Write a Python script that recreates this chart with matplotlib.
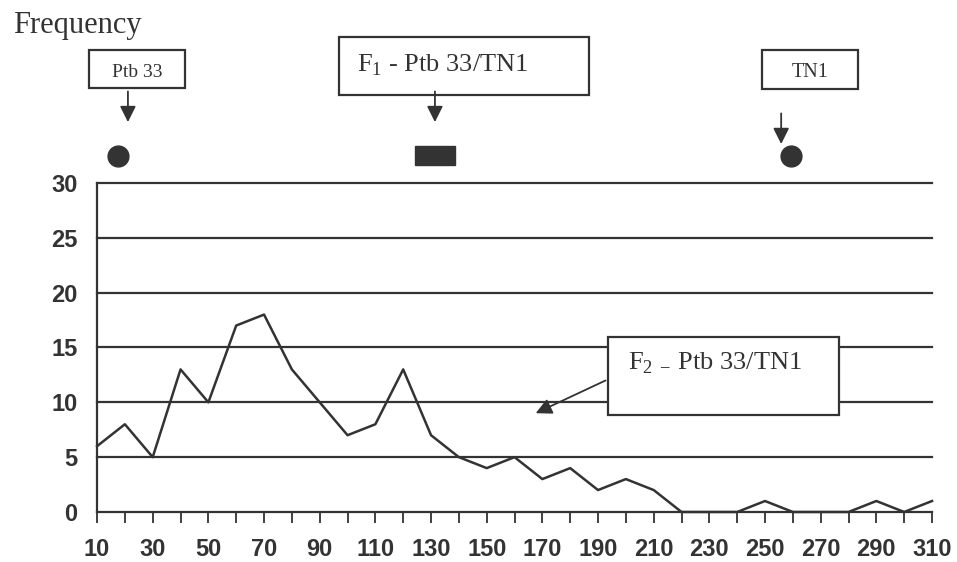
import matplotlib.pyplot as plt
from matplotlib.patches import Rectangle

plt.rcParams['mathtext.fontset'] = 'custom'
plt.rcParams['mathtext.rm'] = 'Liberation Serif'

#class midpoints and counts of the F2 population
classes = [10, 20, 30, 40, 50, 60, 70, 80, 90, 100, 110, 120, 130, 140, 150, 160,
           170, 180, 190, 200, 210, 220, 230, 240, 250, 260, 270, 280, 290, 300, 310]
freq = [6, 8, 5, 13, 10, 17, 18, 13, 10, 7, 8, 13, 7, 5, 4, 5,
        3, 4, 2, 3, 2, 0, 0, 0, 1, 0, 0, 0, 1, 0, 1]
y_ticks = [0, 5, 10, 15, 20, 25, 30]

#parents and F1 positions
ptb33_x = 17.5
tn1_x = 259.4
f1_range = (124.3, 138.6)

col = '#333333'
serif = 'Liberation Serif'

fig = plt.figure(figsize=(9.57, 5.62), dpi=100)
ax = fig.add_axes([0.1014, 0.089, 0.8725, 0.5854])

ax.plot(classes, freq, color=col, lw=1.8, clip_on=False)
for v in y_ticks[1:]:
    ax.axhline(v, color=col, lw=1.6, zorder=0, clip_on=False)

ax.set_xlim(10, 310)
ax.set_ylim(0, 30)
ax.set_yticks(y_ticks)
ax.set_xticks(classes)
ax.set_xticklabels([str(c) if i % 2 == 0 else '' for i, c in enumerate(classes)])
ax.tick_params(axis='x', direction='out', length=8, width=1.3, color=col, pad=11)
ax.tick_params(axis='y', length=0, pad=14)
for lab in ax.get_xticklabels() + ax.get_yticklabels():
    lab.set_fontweight('bold')
    lab.set_fontsize(17)
    lab.set_fontfamily('Liberation Sans')
    lab.set_color(col)
for s in ['top', 'right']:
    ax.spines[s].set_visible(False)
for s in ['left', 'bottom']:
    ax.spines[s].set_color(col)
    ax.spines[s].set_linewidth(1.6)

fig.text(13 / 957, 1 - 25 / 562, 'Frequency', family=serif, fontsize=22, color=col,
         va='center', ha='left')

#parent / F1 markers above the plot
ax.plot([ptb33_x, tn1_x], [32.5, 32.5], 'o', color=col, ms=15, clip_on=False)
ax.add_patch(Rectangle((f1_range[0], 31.6), f1_range[1] - f1_range[0], 1.8,
                       color=col, clip_on=False))

def label_box(x0, x1, y0, y1, text, tx, ty, size, ha='center'):
    ax.add_patch(Rectangle((x0, y0), x1 - x0, y1 - y0, fill=True, facecolor='white',
                           edgecolor=col, lw=1.6, clip_on=False, zorder=3))
    ax.text(tx, ty, text, family=serif, fontsize=size, color=col, ha=ha,
            va='center', zorder=4, clip_on=False)

def down_arrow(x, y0, y1):
    ax.annotate('', xy=(x, y1), xytext=(x, y0), annotation_clip=False,
                arrowprops=dict(arrowstyle='-|>', color=col, lw=1.3,
                                mutation_scale=24))

label_box(7.1, 41.6, 38.65, 42.1, 'Ptb 33', 24.3, 40.1, 14)
down_arrow(21.1, 38.6, 35.3)

label_box(96.9, 186.8, 38.0, 43.3, r'F$_1$ - Ptb 33/TN1', 134.0, 40.7, 19)
down_arrow(131.4, 38.6, 35.3)

label_box(249, 283.4, 38.6, 42.1, 'TN1', 266.2, 40.1, 14.5)
down_arrow(255.8, 36.6, 33.3)

label_box(193.6, 276.6, 8.84, 15.95, r'F$_2$ $_{\mathrm{-}}$ Ptb 33/TN1', 200.8, 13.6, 19, ha='left')
ax.annotate('', xy=(166.7, 8.9), xytext=(193.6, 12.1),
            arrowprops=dict(arrowstyle='-|>', color=col, lw=1.3, mutation_scale=24))

fig.savefig('out.png', dpi=100)
